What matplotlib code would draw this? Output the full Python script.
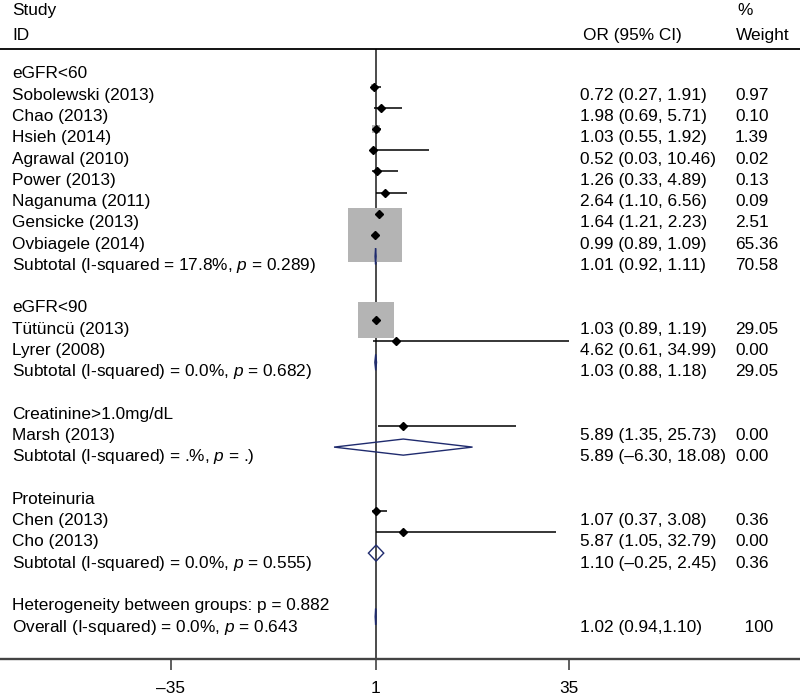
import matplotlib
matplotlib.use("Agg")
import matplotlib.pyplot as plt
from matplotlib.patches import Polygon

plt.rcParams['font.family'] = ['Liberation Sans', 'DejaVu Sans']
plt.rcParams['mathtext.fontset'] = 'custom'
plt.rcParams['mathtext.rm'] = 'Liberation Sans'
plt.rcParams['mathtext.it'] = 'Liberation Sans:italic'

# ---------------- data ----------------
row_labels = [
    "eGFR<60",
    "Sobolewski (2013)",
    "Chao (2013)",
    "Hsieh (2014)",
    "Agrawal (2010)",
    "Power (2013)",
    "Naganuma (2011)",
    "Gensicke (2013)",
    "Ovbiagele (2014)",
    "Subtotal (I-squared = 17.8%, $\\mathit{p}$ = 0.289)",
    "",
    "eGFR<90",
    "Tütüncü (2013)",
    "Lyrer (2008)",
    "Subtotal (I-squared) = 0.0%, $\\mathit{p}$ = 0.682)",
    "",
    "Creatinine>1.0mg/dL",
    "Marsh (2013)",
    "Subtotal (I-squared) = .%, $\\mathit{p}$ = .)",
    "",
    "Proteinuria",
    "Chen (2013)",
    "Cho (2013)",
    "Subtotal (I-squared) = 0.0%, $\\mathit{p}$ = 0.555)",
    "",
    "Heterogeneity between groups: p = 0.882",
    "Overall (I-squared) = 0.0%, $\\mathit{p}$ = 0.643",
]
# kind: g=group header, s=study, d=subtotal diamond, o=overall diamond, n=note, ''=blank
row_kind = ["g", "s", "s", "s", "s", "s", "s", "s", "s", "d", "",
            "g", "s", "s", "d", "",
            "g", "s", "d", "",
            "g", "s", "s", "d", "",
            "n", "o"]
est = [None, 0.72, 1.98, 1.03, 0.52, 1.26, 2.64, 1.64, 0.99, 1.01, None,
       None, 1.03, 4.62, 1.03, None,
       None, 5.89, 5.89, None,
       None, 1.07, 5.87, 1.10, None,
       None, 1.02]
ci_lo = [None, 0.27, 0.69, 0.55, 0.03, 0.33, 1.10, 1.21, 0.89, 0.92, None,
         None, 0.89, 0.61, 0.88, None,
         None, 1.35, -6.30, None,
         None, 0.37, 1.05, -0.25, None,
         None, 0.94]
ci_hi = [None, 1.91, 5.71, 1.92, 10.46, 4.89, 6.56, 2.23, 1.09, 1.11, None,
         None, 1.19, 34.99, 1.18, None,
         None, 25.73, 18.08, None,
         None, 3.08, 32.79, 2.45, None,
         None, 1.10]
weight_text = ["", "0.97", "0.10", "1.39", "0.02", "0.13", "0.09", "2.51", "65.36", "70.58", "",
               "", "29.05", "0.00", "29.05", "",
               "", "0.00", "0.00", "",
               "", "0.36", "0.00", "0.36", "",
               "", "100"]
x_ticks = [-35, 1, 35]
x_tick_labels = ["\u201335", "1", "35"]

# ---------------- layout ----------------
FS = 12.4
W, H = 800, 700
fig = plt.figure(figsize=(8, 7), dpi=100)
ax_top_px, ax_bot_px = 49, 659
ax = fig.add_axes([0, 1 - ax_bot_px / H, 1, (ax_bot_px - ax_top_px) / H])

row0_px, row_step_px = 65.5, 21.2


def ypix_to_row(yp):
    return (yp - row0_px) / row_step_px


ax.set_xlim(-65.1, 75.72)
ax.set_ylim(ypix_to_row(ax_bot_px), ypix_to_row(ax_top_px))

# reference line at OR = 1
ax.axvline(1, color="#1a1a1a", lw=1.1, zorder=1)

n = len(row_labels)
for i in range(n):
    k = row_kind[i]
    if k == "s":
        w = float(weight_text[i])
        if w > 0:
            ax.scatter([est[i]], [i], marker="s", s=22.3 * w, color="#b4b4b4",
                       linewidths=0, zorder=2)
for i in range(n):
    k = row_kind[i]
    if k == "s":
        ax.hlines(i, ci_lo[i], ci_hi[i], color="black", lw=1.1, zorder=3)
        ax.plot([est[i]], [i], marker="D", color="black", ms=3.9, zorder=4)
    elif k in ("d", "o"):
        hh = 0.38
        poly = Polygon([(ci_lo[i], i), (est[i], i - hh), (ci_hi[i], i), (est[i], i + hh)],
                       closed=True, fill=False, ec="#1f2b6e", lw=1.0, zorder=5)
        ax.add_patch(poly)

# text columns
tr = ax.get_yaxis_transform()
x_lab, x_or, x_w = 12 / W, 580 / W, 735 / W


def text_row(i):
    return ypix_to_row(74 + 21.27 * i)


def fmt(v):
    return f"{v:.2f}".replace("-", "\u2013")


for i in range(n):
    if row_labels[i]:
        ax.text(x_lab, text_row(i), row_labels[i], transform=tr, ha="left", va="center",
                fontsize=FS, clip_on=False)
    if est[i] is not None and row_kind[i] in ("s", "d", "o"):
        sep = "," if row_kind[i] == "o" else ", "
        s = f"{fmt(est[i])} ({fmt(ci_lo[i])}{sep}{fmt(ci_hi[i])})"
        ax.text(x_or, text_row(i), s, transform=tr, ha="left", va="center",
                fontsize=FS, clip_on=False)
    if weight_text[i]:
        wt = weight_text[i] if row_kind[i] != "o" else "  " + weight_text[i]
        ax.text(x_w, text_row(i), wt, transform=tr, ha="left", va="center",
                fontsize=FS, clip_on=False)

# headers
y1, y2 = ypix_to_row(10.5), ypix_to_row(35.5)
ax.text(x_lab, y1, "Study", transform=tr, ha="left", va="center", fontsize=FS, clip_on=False)
ax.text(x_lab, y2, "ID", transform=tr, ha="left", va="center", fontsize=FS, clip_on=False)
ax.text(583 / W, y2, "OR (95% CI)", transform=tr, ha="left", va="center", fontsize=FS, clip_on=False)
ax.text(737 / W, y1, "%", transform=tr, ha="left", va="center", fontsize=FS, clip_on=False)
ax.text(736 / W, y2, "Weight", transform=tr, ha="left", va="center", fontsize=FS, clip_on=False)

# axes styling
for side in ("left", "right"):
    ax.spines[side].set_visible(False)
ax.spines["top"].set_color("black")
ax.spines["top"].set_linewidth(1.3)
ax.spines["bottom"].set_color("#444444")
ax.spines["bottom"].set_linewidth(1.7)
ax.set_yticks([])
ax.set_xticks(x_ticks)
ax.set_xticklabels(x_tick_labels)
ax.tick_params(axis="x", length=8, width=1.1, pad=8, labelsize=FS, color="#333333")

fig.savefig("out.png", dpi=100)
